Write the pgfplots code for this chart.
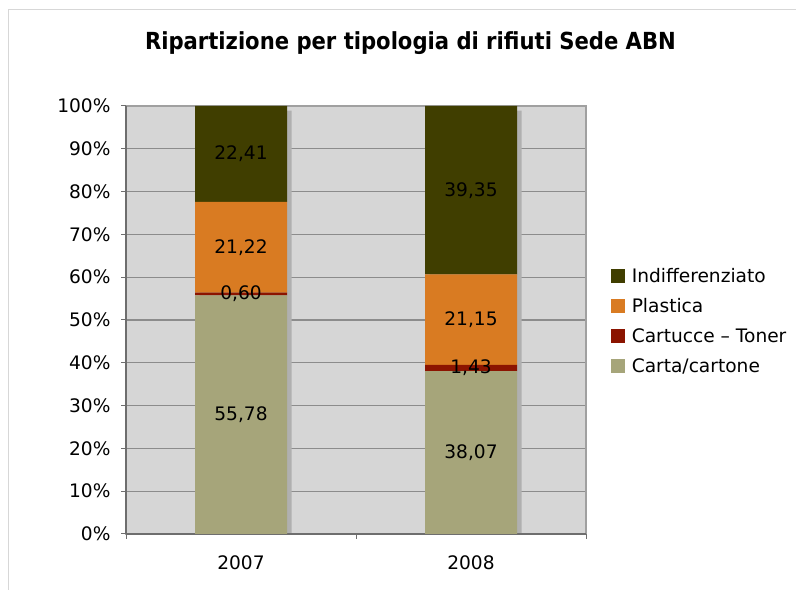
\documentclass[border=0pt]{standalone}
\usepackage{fontspec}
\setmainfont{DejaVu Sans}
\newfontfamily\titlefont{DejaVu Sans Condensed}
\usepackage{pgfplots}
\usepackage{pgfplotstable}
\pgfplotsset{compat=1.18}

\definecolor{cInd}{RGB}{64,62,0}
\definecolor{cPla}{RGB}{217,123,34}
\definecolor{cCar}{RGB}{139,20,0}
\definecolor{cCta}{RGB}{166,165,122}
\definecolor{bgcol}{RGB}{214,214,214}
\definecolor{gridcol}{RGB}{140,140,140}
\definecolor{bordercol}{RGB}{160,160,160}
\definecolor{axcol}{RGB}{110,110,110}
\definecolor{shadowcol}{RGB}{176,176,176}
\definecolor{framecol}{RGB}{215,215,215}

\pgfplotstableread{
x carta cartucce plastica indiff
0 55.78 0.60 21.22 22.41
1 38.07 1.43 21.15 39.35
}\datatable

\pgfplotstableread{
x y lab
0 27.89 55,78
0 56.08 0,60
0 66.99 21,22
0 88.805 22,41
1 19.035 38,07
1 38.785 1,43
1 50.075 21,15
1 80.325 39,35
}\labtable

\newcommand{\lfont}{\fontsize{18.6bp}{22bp}\selectfont}

\pgfplotsset{
  common/.style={
    scale only axis,
    width=460bp, height=428bp,
    at={(126bp,56bp)}, anchor=south west,
    xmin=-0.5, xmax=1.5, ymin=0, ymax=100,
  },
  sq/.style={legend image code/.code={\fill[##1] (0bp,-7bp) rectangle (14bp,7bp);}},
}

\begin{document}
\begin{tikzpicture}
\path[use as bounding box] (0,0) rectangle (796bp,590bp);
\draw[framecol, line width=1bp] (8bp,0) -- (8bp,580bp) -- (796bp,580bp);
\node[anchor=base, inner sep=0] at (410.5bp,540bp) {\titlefont\bfseries\fontsize{23.5bp}{28bp}\selectfont Ripartizione per tipologia di rifiuti Sede ABN};

% background, grid, shadows
\begin{axis}[common,
  axis background/.style={fill=bgcol},
  ymajorgrids, grid style={gridcol, line width=1.2bp},
  ytick={0,10,...,100}, yticklabels={}, xtick=\empty,
  major tick length=0pt,
  axis line style={bordercol, line width=1.6bp},
]
\addplot[ybar, bar width=92bp, bar shift=4.5bp, fill=shadowcol, draw=none]
  coordinates {(0,98.9) (1,98.9)};
\end{axis}

% stacked bars
\begin{axis}[common,
  ybar stacked, bar width=92bp,
  axis x line=bottom, axis y line=left,
  axis line style={-, axcol, line width=1.3bp},
  tick align=outside,
  major tick length=5bp, minor tick length=5bp,
  ytick={0,10,...,100},
  yticklabel={\pgfmathprintnumber{\tick}\%},
  ytick style={axcol, line width=1bp},
  xtick={0,1}, xticklabels={2007,2008},
  minor xtick={-0.5,0.5,1.5},
  major x tick style={draw=none},
  minor x tick style={axcol, line width=1bp},
  tick label style={font=\lfont, text=black},
  /pgf/number format/assume math mode=true,
  yticklabel style={xshift=-7bp},
  xticklabel style={yshift=-13bp},
  reverse legend,
  legend style={at={(1.048,0.632)}, anchor=north west, draw=none, fill=none,
    font=\lfont, row sep=9.5bp, cells={anchor=west},
    nodes={inner sep=2.5bp}},
  legend cell align=left,
]
\addplot[fill=cCta, draw=none, sq] table[x=x, y=carta] {\datatable};
\addplot[fill=cCar, draw=none, sq] table[x=x, y=cartucce] {\datatable};
\addplot[fill=cPla, draw=none, sq] table[x=x, y=plastica] {\datatable};
\addplot[fill=cInd, draw=none, sq] table[x=x, y=indiff] {\datatable};
\legend{\hspace{4bp}Carta/cartone, \hspace{4bp}Cartucce -- Toner, \hspace{4bp}Plastica, \hspace{4bp}Indifferenziato}
\end{axis}

% data labels
\begin{axis}[common, hide axis, clip=false]
\addplot[draw=none, nodes near coords, point meta=explicit symbolic,
  every node near coord/.append style={anchor=center, font=\lfont, text=black, inner sep=0}]
  table[x=x, y=y, meta=lab] {\labtable};
\end{axis}
\end{tikzpicture}
\end{document}
